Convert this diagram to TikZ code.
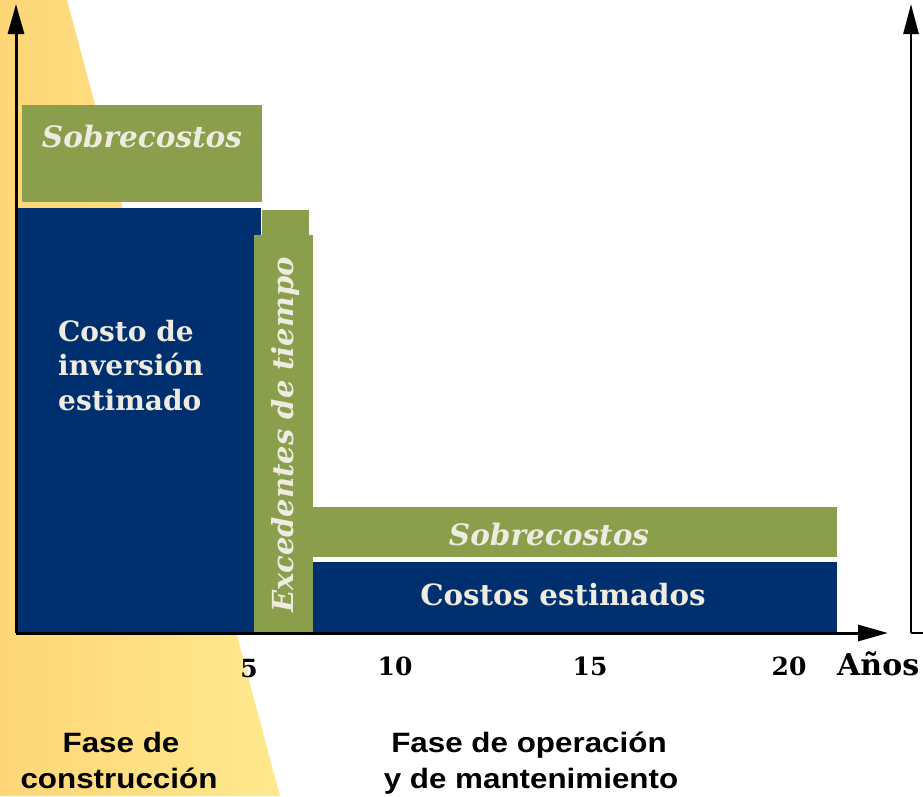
\documentclass[tikz,border=0pt]{standalone}
\usepackage{fontspec}
\setmainfont{DejaVu Serif}
\newfontfamily\phasefont[FakeStretch=1.12]{Liberation Sans}
\usetikzlibrary{arrows.meta}
\definecolor{olivegreen}{HTML}{8A9E4C}
\definecolor{navyblue}{HTML}{002F70}
\definecolor{cream}{HTML}{EEEBE1}
\definecolor{yelA}{HTML}{FDD677}
\definecolor{yelB}{HTML}{FFE98E}
\tikzset{
  gbox/.style={fill=olivegreen, draw=none, inner sep=0pt, anchor=north west},
  bbox/.style={fill=navyblue, draw=none, inner sep=0pt, anchor=north west},
  lbl/.style={text=cream, inner sep=0pt, font=\bfseries\fontsize{28}{34}\selectfont},
  ilbl/.style={text=cream, inner sep=0pt, font=\bfseries\itshape\fontsize{29.5}{35}\selectfont},
  num/.style={text=black, inner sep=0pt, anchor=base, font=\bfseries\fontsize{25}{30}\selectfont},
  phase/.style={text=black, inner sep=0pt, anchor=base, font=\phasefont\bfseries\fontsize{28}{34}\selectfont},
  axis/.style={line width=3pt, draw=black, -{Triangle[length=30pt,width=16pt]}},
  raxis/.style={line width=2.6pt, draw=black, -{Triangle[length=30pt,width=15pt]}}
}
\begin{document}
\begin{tikzpicture}[x=1pt,y=-1pt]
\useasboundingbox (0,0) rectangle (923,796);
% background wedge
\shade[left color=yelA, right color=yelB] (0,0) -- (67,0) -- (280,796) -- (0,796) -- cycle;

% boxes
\node[gbox, minimum width=240pt, minimum height=97pt] (sobre1) at (22,105) {};
\node[bbox, minimum width=244pt, minimum height=425pt] (inv) at (17,208) {};
\node[gbox, minimum width=47pt, minimum height=40pt] (small) at (262,210) {};
\node[gbox, minimum width=59pt, minimum height=398pt] (exced) at (254,235) {};
\node[gbox, minimum width=524pt, minimum height=50pt] (sobre2) at (313,507) {};
\node[bbox, minimum width=524pt, minimum height=71pt] (costos) at (313,562) {};

% box texts
\node[ilbl, anchor=base] (t1) at (142,147) {Sobrecostos};
\node[lbl, anchor=base west] (t2a) at (58,341) {Costo de};
\node[lbl, anchor=base west] (t2b) at (58,375) {inversión};
\node[lbl, anchor=base west] (t2c) at (58,410) {estimado};
\node[ilbl, rotate=90, anchor=center, font=\bfseries\itshape\fontsize{29}{35}\selectfont] (t3) at (285,435) {Excedentes de tiempo};
\node[ilbl, anchor=base] (t4) at (549,545) {Sobrecostos};
\node[lbl, anchor=base, font=\bfseries\fontsize{29.3}{35}\selectfont] (t5) at (563,605) {Costos estimados};

% axes
\coordinate (O) at (16,633);
\coordinate (Ytop) at (16,4);
\coordinate (Xend) at (888,633);
\coordinate (Rfoot) at (923,633);
\coordinate (Rcorner) at (911,633);
\coordinate (Rtop) at (911,4);
\draw[axis] (O) -- (Ytop);
\draw[axis] (O) -- (Xend);
\draw[line width=2.6pt] (Rfoot) -- (Rcorner);
\draw[raxis] (Rcorner) -- (Rtop);

% tick labels
\node[num] (n5) at (249,677) {5};
\node[num] (n10) at (395,675) {10};
\node[num] (n15) at (590,675) {15};
\node[num] (n20) at (789,675) {20};
\node[text=black, inner sep=0pt, anchor=base west, font=\bfseries\fontsize{30}{36}\selectfont] (anos) at (837,675) {Años};

% phase labels
\node[phase] (p1a) at (121,752) {Fase de};
\node[phase] (p1b) at (119,788) {construcción};
\node[phase] (p2a) at (529,752) {Fase de operación};
\node[phase] (p2b) at (531,788) {y de mantenimiento};
\end{tikzpicture}
\end{document}
